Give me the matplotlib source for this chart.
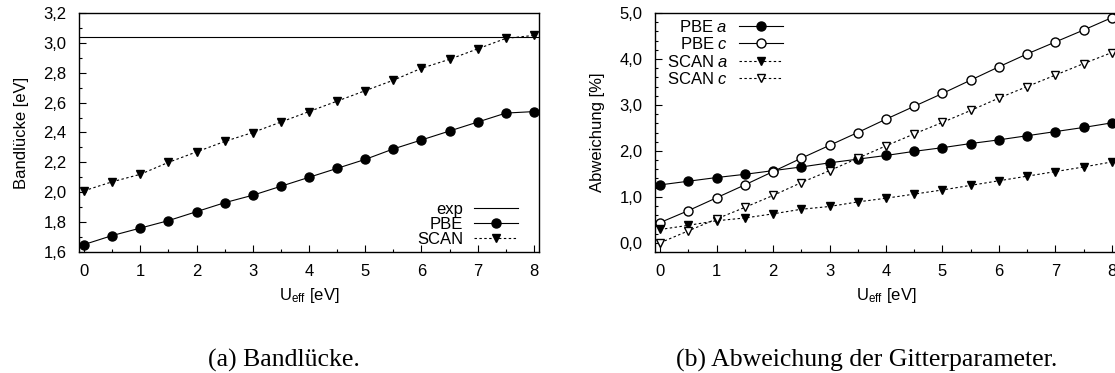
import numpy as np
import matplotlib
matplotlib.use('Agg')
import matplotlib.pyplot as plt
from matplotlib.ticker import MultipleLocator, FuncFormatter

plt.rcParams['font.family'] = ['Liberation Sans', 'DejaVu Sans']
plt.rcParams['mathtext.fontset'] = 'custom'
plt.rcParams['mathtext.rm'] = 'Liberation Sans'
plt.rcParams['mathtext.it'] = 'Liberation Sans:italic'

# U_eff values in eV
u_eff = [0, 0.5, 1, 1.5, 2, 2.5, 3, 3.5, 4, 4.5, 5, 5.5, 6, 6.5, 7, 7.5, 8]

# (a) band gap in eV
gap_exp = 3.04
gap_pbe = [1.65, 1.71, 1.76, 1.81, 1.87, 1.93, 1.98, 2.04, 2.10, 2.16, 2.22,
           2.29, 2.35, 2.41, 2.47, 2.53, 2.54]
gap_scan = [2.01, 2.07, 2.12, 2.20, 2.27, 2.34, 2.40, 2.47, 2.54, 2.61, 2.68,
            2.75, 2.83, 2.89, 2.96, 3.03, 3.05]

# (b) lattice parameter deviation in %
dev_pbe_a = [1.26, 1.34, 1.42, 1.49, 1.57, 1.65, 1.74, 1.82, 1.90, 1.99, 2.07,
             2.16, 2.24, 2.33, 2.42, 2.51, 2.61]
dev_pbe_c = [0.44, 0.70, 0.98, 1.26, 1.55, 1.84, 2.12, 2.40, 2.69, 2.97, 3.25,
             3.54, 3.83, 4.11, 4.37, 4.63, 4.90]
dev_scan_a = [0.29, 0.38, 0.48, 0.54, 0.63, 0.73, 0.79, 0.89, 0.97, 1.06, 1.15,
              1.25, 1.35, 1.45, 1.55, 1.65, 1.76]
dev_scan_c = [0.0, 0.26, 0.52, 0.77, 1.03, 1.31, 1.57, 1.84, 2.11, 2.37, 2.62,
              2.88, 3.15, 3.40, 3.65, 3.90, 4.14]

W, H = 1115, 373
fig = plt.figure(figsize=(W / 100, H / 100), dpi=100)

def px_axes(x0, y0, x1, y1):
    return fig.add_axes([x0 / W, 1 - y1 / H, (x1 - x0) / W, (y1 - y0) / H])

FS = 12
dotted = (0, (2.2, 2.2))
comma = lambda fmt: FuncFormatter(lambda v, p: (fmt % v).replace('.', ','))

def style_axes(ax):
    ax.set_xlim(-0.09, 8.09)
    ax.xaxis.set_major_locator(MultipleLocator(1))
    ax.xaxis.set_minor_locator(MultipleLocator(0.5))
    ax.tick_params(which='both', direction='in', top=False, right=False,
                   labelsize=FS, width=0.8)
    ax.tick_params(which='major', length=5)
    ax.tick_params(which='minor', length=2.5)
    ax.tick_params(axis='x', which='major', pad=9)
    ax.tick_params(axis='y', which='major', pad=9)
    ax.set_xlabel(r'U$_{\mathrm{eff}}$ [eV]', fontsize=FS, labelpad=5)
    for s in ax.spines.values():
        s.set_linewidth(1.0)

leg_kw = dict(markerfirst=False, frameon=False, fontsize=FS, handlelength=2.65,
              handletextpad=0.65, borderpad=0, borderaxespad=0)

# ---- (a) band gap ----
ax1 = px_axes(79, 13, 539, 252)
ax1.axhline(gap_exp, color='k', lw=0.8, label='exp')
ax1.plot(u_eff, gap_pbe, color='k', lw=0.8, marker='o', ms=6.5, label='PBE')
ax1.plot(u_eff, gap_scan, color='k', lw=0.8, ls=dotted, marker='v', ms=5.5,
         label='SCAN')
ax1.set_ylim(1.6, 3.2)
ax1.yaxis.set_major_locator(MultipleLocator(0.2))
ax1.yaxis.set_minor_locator(MultipleLocator(0.1))
ax1.yaxis.set_major_formatter(comma('%.1f'))
ax1.set_ylabel('Bandlücke [eV]', fontsize=FS, labelpad=10)
style_axes(ax1)
ax1.legend(loc='lower right', bbox_to_anchor=((518 - 79) / 460, 5 / 239),
           labelspacing=0.0, **leg_kw)

# ---- (b) lattice deviation ----
ax2 = px_axes(655, 13, 1117, 252)
ax2.plot(u_eff, dev_pbe_a, color='k', lw=0.8, marker='o', ms=6.5,
         label='PBE $a$')
ax2.plot(u_eff, dev_pbe_c, color='k', lw=0.8, marker='o', ms=6.5,
         mfc='white', label='PBE $c$')
ax2.plot(u_eff, dev_scan_a, color='k', lw=0.8, ls=dotted, marker='v', ms=5.5,
         label='SCAN $a$')
ax2.plot(u_eff, dev_scan_c, color='k', lw=0.8, ls=dotted, marker='v', ms=5.5,
         mfc='white', label='SCAN $c$')
ax2.set_ylim(-0.2, 5.0)
ax2.yaxis.set_major_locator(MultipleLocator(1))
ax2.yaxis.set_minor_locator(MultipleLocator(0.2))
ax2.yaxis.set_major_formatter(comma('%.1f'))
ax2.set_ylabel('Abweichung [%]', fontsize=FS, labelpad=10)
style_axes(ax2)
ax2.legend(loc='upper right', bbox_to_anchor=((783 - 655) / 462, 1 - 6 / 239),
           labelspacing=0.08, **leg_kw)

# captions
fig.text(284 / W, 1 - 367 / H, '(a) Bandlücke.', ha='center', va='baseline',
         family='Liberation Serif', fontsize=18.5)
fig.text(867 / W, 1 - 367 / H, '(b) Abweichung der Gitterparameter.',
         ha='center', va='baseline', family='Liberation Serif', fontsize=18.5)

fig.savefig('out.png', dpi=100)
